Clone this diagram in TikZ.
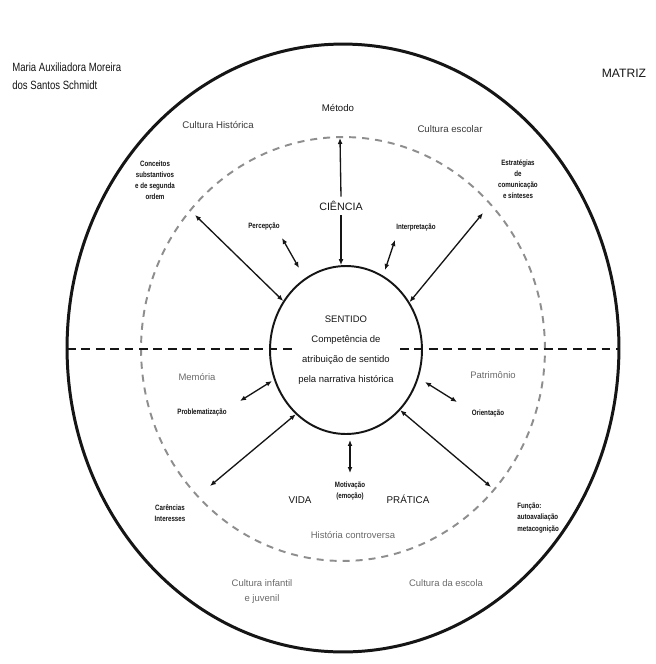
\documentclass[tikz,border=0pt]{standalone}
\usepackage{fontspec}
\setmainfont{Liberation Sans}
\newfontfamily\narrowfont[FakeStretch=0.8]{Liberation Sans}
\usetikzlibrary{positioning,arrows.meta,shapes.geometric}
\definecolor{ink}{HTML}{151515}
\definecolor{zonegrey}{HTML}{3A3A3A}
\definecolor{softgrey}{HTML}{6A6A6A}
\definecolor{dashgrey}{HTML}{8E8E8E}
\tikzset{
  author/.style ={font=\narrowfont\fontsize{6.8}{8}\selectfont, text=ink, inner sep=0pt},
  lbl/.style    ={font=\narrowfont\bfseries\fontsize{4.4}{6.3}\selectfont, align=center,
                  inner sep=0pt, text=ink},
  zone/.style   ={font=\fontsize{5.5}{7}\selectfont, text=zonegrey, inner sep=0pt},
  softtxt/.style={font=\fontsize{5.4}{8.5}\selectfont, text=softgrey, inner sep=0pt, align=center},
  big/.style    ={font=\fontsize{5.6}{7}\selectfont, text=ink, inner sep=0pt},
  % core: the sense ring
  core/.style   ={ellipse, draw=ink, line width=1.1pt, minimum width=3.04cm,
                  minimum height=3.36cm, align=center, inner sep=0pt,
                  font=\fontsize{5.4}{11.3}\selectfont, text=ink},
  ring/.style   ={draw=ink, line width=1.7pt},
  halo/.style   ={draw=dashgrey, line width=1.1pt, dash pattern=on 4pt off 3.4pt},
  cut/.style    ={draw=ink, line width=1.6pt, dash pattern=on 5pt off 3.2pt},
  link/.style   ={{Latex[length=3.4pt,width=2.8pt]}-{Latex[length=3.4pt,width=2.8pt]},
                  line width=0.75pt, ink},
  ray/.style    ={-{Latex[length=3.4pt,width=2.8pt]}, line width=0.75pt, ink},
}

\begin{document}
\begin{tikzpicture}[x=0.02cm, y=-0.02cm]
  \useasboundingbox[fill=white] (0,0) rectangle (656,664);
  % rings
  \draw[ring] (343,348) ellipse [x radius=5.52cm, y radius=6.08cm];
  \draw[halo] (343,349) ellipse [x radius=4.04cm, y radius=4.24cm];
  \node[core] (sentido) at (346,350)
    {SENTIDO\\Competência de\\atribuição de sentido\\pela narrativa histórica};

  % horizontal cut
  \coordinate (hw) at (67,349);   \coordinate (hx) at (292,349);
  \coordinate (hy) at (400,349);  \coordinate (he) at (619,349);
  \draw[cut] (hw) -- (hx);
  \draw[cut] (hy) -- (he);

  % heading
  \node[author, anchor=west] (auth1) at (12,67) {Maria Auxiliadora Moreira};
  \node[author, anchor=west] (auth2) at (12,85) {dos Santos Schmidt};
  \node[font=\fontsize{6.9}{8}\selectfont, text=ink, inner sep=0pt] (matriz) at (624,73) {MATRIZ};

  % upper half
  \node[zone, text=ink] (metodo) at (338,108) {Método};
  \node[zone] (histcult) at (218,125) {Cultura Histórica};
  \node[zone] (esccult)  at (450,129) {Cultura escolar};
  \node[lbl] (conceitos)   at (155,180) {Conceitos\\substantivos\\e de segunda\\ordem};
  \node[lbl] (estrategias) at (518,179) {Estratégias\\de\\comunicação\\e sínteses};
  \node[big, font=\fontsize{6.1}{7}\selectfont, inner sep=2.5pt] (ciencia) at (341,206) {CIÊNCIA};
  \node[lbl] (percepcao) at (264,227) {Percepção};
  \node[lbl] (interp)    at (416,228) {Interpretação};

  % lower half
  \node[softtxt] (memoria) at (197,377) {Memória};
  \node[softtxt] (patrim)  at (493,375) {Patrimônio};
  \node[lbl] (problem) at (202,412) {Problematização};
  \node[lbl] (orient)  at (488,413) {Orientação};
  \node[lbl] (motiv)   at (350,491) {Motivação\\(emoção)};
  \node[big] (vida)    at (300,500) {VIDA};
  \node[big] (pratica) at (408,499) {PRÁTICA};
  \node[lbl] (carencias) at (170,513) {Carências\\Interesses};
  \node[lbl, anchor=west, align=left] (funcao) at (517,518) {Função:\\autoavaliação\\metacognição};
  \node[softtxt] (controv)  at (353,535) {História controversa};
  \node[softtxt] (infantil) at (262,592) {Cultura infantil\\e juvenil};
  \node[softtxt] (daescola) at (446,583) {Cultura da escola};

  % arrows
  \coordinate (dtop) at (340,138);
  \draw[ray] (ciencia.north) -- (dtop);
  \draw[ray] (ciencia.south) -- (ciencia.south |- sentido.north);
  \coordinate (dnw) at (195,215);
  \coordinate (dne) at (483,213);
  \coordinate (dsw) at (210,486);
  \coordinate (dse) at (491,487);
  \draw[link] (dnw) -- (sentido.142);
  \draw[link] (dne) -- (sentido.37);
  \draw[link] (dsw) -- (sentido.232);
  \draw[link] (dse) -- (sentido.312);
  \coordinate (pa) at (282,238);  \coordinate (pb) at (299,268);
  \coordinate (ia) at (395,240);  \coordinate (ib) at (385,270);
  \coordinate (ra) at (240,401);  \coordinate (rb) at (272,381);
  \coordinate (oa) at (457,402);  \coordinate (ob) at (425,382);
  \coordinate (ma) at (350,440);  \coordinate (mb) at (350,473);
  \draw[link] (pa) -- (pb);
  \draw[link] (ia) -- (ib);
  \draw[link] (ra) -- (rb);
  \draw[link] (oa) -- (ob);
  \draw[link] (ma) -- (mb);
\end{tikzpicture}
\end{document}
